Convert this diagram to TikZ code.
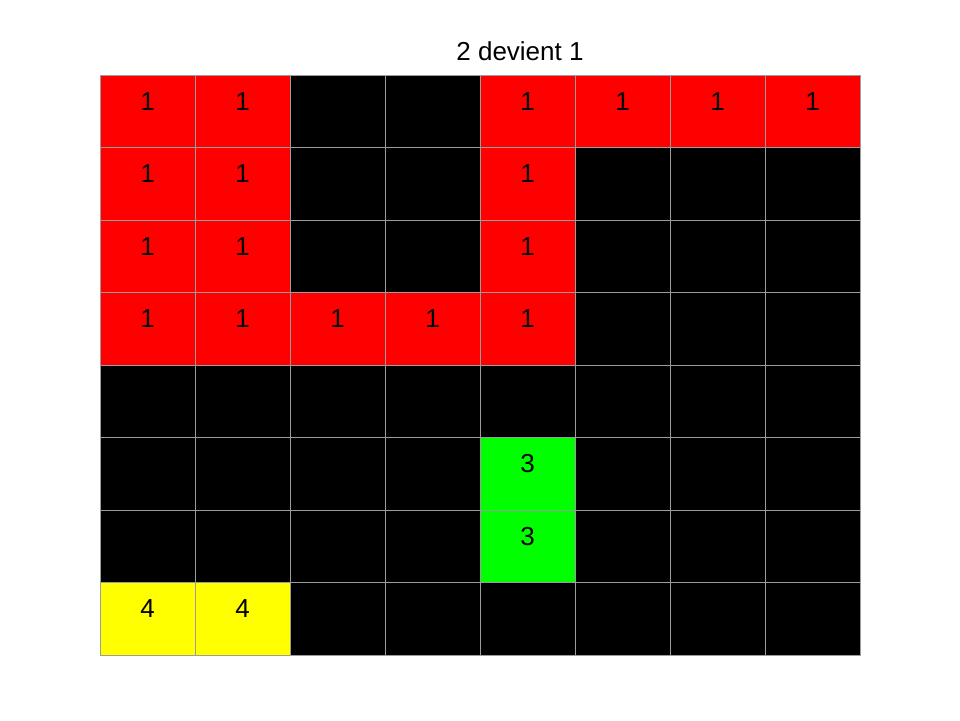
\documentclass[tikz,border=0pt]{standalone}
\usepackage{fontspec}
\setmainfont{Liberation Sans}
\definecolor{R}{HTML}{FF0000}
\definecolor{K}{HTML}{000000}
\definecolor{G}{HTML}{00FF00}
\definecolor{Y}{HTML}{FFFF00}
\definecolor{gridgray}{HTML}{9C9C9C}
\def\txtR{1}\def\txtK{}\def\txtG{3}\def\txtY{4}
\begin{document}
\begin{tikzpicture}[x=1pt,y=-1pt,
  cell/.style={draw=gridgray,line width=1pt,minimum width=95pt,minimum height=72.5pt,inner sep=0pt,outer sep=0pt},
  celltext/.style={anchor=base,inner sep=0pt,font=\fontsize{26}{30}\selectfont},
  titletext/.style={anchor=base,inner sep=0pt,font=\fontsize{26}{30}\selectfont}]
\useasboundingbox (0,0) rectangle (960,720);
\fill[white] (0,0) rectangle (960,720);
\node[titletext] (title) at (520,60.7) {2 devient 1};
\foreach \row [count=\r from 0] in {
  {R,R,K,K,R,R,R,R},
  {R,R,K,K,R,K,K,K},
  {R,R,K,K,R,K,K,K},
  {R,R,R,R,R,K,K,K},
  {K,K,K,K,K,K,K,K},
  {K,K,K,K,G,K,K,K},
  {K,K,K,K,G,K,K,K},
  {Y,Y,K,K,K,K,K,K}} {
  \foreach \c [count=\k from 0] in \row {
    \node[cell,fill=\c] (cell-\r-\k) at ({100+95*\k+47.5},{75+72.5*\r+36.25}) {};
    \node[celltext] (txt-\r-\k) at ({100+95*\k+47.5},{75+72.5*\r+35}) {\csname txt\c\endcsname};
  }
}
\end{tikzpicture}
\end{document}
